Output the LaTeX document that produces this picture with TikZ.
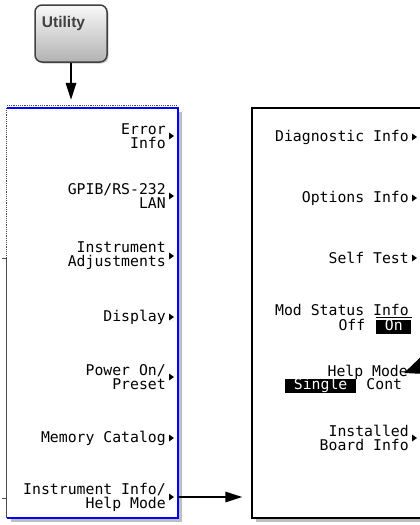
\documentclass[tikz,border=0pt]{standalone}
\usepackage{fontspec}
\setmonofont{DejaVu Sans Mono}
\setsansfont{Liberation Sans}
\usetikzlibrary{arrows.meta,shadows}

\newcommand\keyfont{\ttfamily\fontsize{14.8}{14}\selectfont}
% small softkey triangle right of a label
\newcommand\keymark[1]{\fill ([shift={(3,-3.5)}]#1.east) -- ++(5,3.5) -- ++(-5,3.5) -- cycle;}

\tikzset{
  keytext/.style={font=\keyfont,align=right,anchor=east,inner sep=0pt},
  hilite/.style={font=\keyfont,fill=black,text=white,inner xsep=8.7pt,inner ysep=0.5pt,text height=10pt,text depth=3pt,anchor=north west},
  flow/.style={-{Triangle[length=17pt,width=10.5pt]},line width=1.6pt},
  panel/.style={fill=white,inner sep=0pt,drop shadow={shadow xshift=4pt,shadow yshift=-4pt,fill=gray,opacity=.5}},
}

\begin{document}
\begin{tikzpicture}[x=1pt,y=-1pt]
\useasboundingbox (0,0) rectangle (420,525);
\clip (0,0) rectangle (420,525);

% Utility hardkey
\node[draw=black!75,line width=1.5pt,rounded corners=7pt,top color=gray!5,middle color=gray!30,bottom color=gray!60,minimum width=72pt,minimum height=57pt,drop shadow={shadow xshift=1.5pt,shadow yshift=-1.5pt,fill=gray,opacity=.4}] (utility) at (71,33.5) {};
\node[font=\sffamily\bfseries\fontsize{15.5}{18}\selectfont,text=black!75,anchor=base] (utilitylbl) at (63.5,27) {Utility};

% Utility menu
\node[panel,minimum width=171pt,minimum height=410pt] (utilmenu) at (92.5,313) {};
\coordinate (tickA) at (2,258);
\coordinate (tickB) at (2,498);
\draw[blue,line width=2pt] (utilmenu.north west) -- (utilmenu.north east) -- (utilmenu.south east) -- (utilmenu.south west);
\draw[black!70,densely dotted,line width=1.2pt] ([yshift=2pt]utilmenu.north west) -- ([yshift=2pt]utilmenu.north east);
\draw[black!70,densely dotted,line width=1.2pt] (utilmenu.north west) -- (utilmenu.west |- tickA);
\draw[black!70,line width=1.2pt] (utilmenu.west |- tickA) -- (utilmenu.south west);
\draw[black!70] (tickA) -- (utilmenu.west |- tickA);
\draw[black!70] (tickB) -- (utilmenu.west |- tickB);

\node[keytext] (errinfo) at (166,136) {Error\\Info};
\node[keytext] (gpib) at (166,196) {GPIB/RS-232\\LAN};
\node[keytext] (adjust) at (166,256) {Instrument\\Adjustments};
\node[keytext] (display) at (166,317) {Display};
\node[keytext] (poweron) at (166,377) {Power On/\\Preset};
\node[keytext] (memcat) at (166,438) {Memory Catalog};
\node[keytext] (infohelp) at (166,497) {Instrument Info/\\Help Mode};
\keymark{errinfo}
\keymark{gpib}
\keymark{adjust}
\keymark{display}
\keymark{poweron}
\keymark{memcat}
\keymark{infohelp}

% Instrument Info menu
\node[panel,draw=black,line width=1.5pt,minimum width=190pt,minimum height=410pt] (infomenu) at (347,313) {};

\node[keytext] (diaginfo) at (409,137) {Diagnostic Info};
\node[keytext] (optinfo) at (409,198) {Options Info};
\node[keytext] (selftest) at (409,258) {Self Test};
\node[keytext,anchor=base east] (modstatus) at (409,315) {Mod Status Info};
\node[keytext,anchor=base east] (modoff) at (365.5,330) {Off};
\node[hilite] (modon) at (376,319.5) {On};
\draw[line width=0.8pt] ([yshift=2pt]modon.north west) -- ([yshift=2pt]modon.north east);
\node[keytext,anchor=base east] (helpmode) at (408,376) {Help Mode};
\node[hilite] (single) at (285,379) {Single};
\node[keytext,anchor=base west] (cont) at ([xshift=10pt]single.base east) {Cont};
\node[keytext] (boardinfo) at (409,438) {Installed\\Board Info};
\keymark{diaginfo}
\keymark{optinfo}
\keymark{selftest}
\keymark{boardinfo}

% connectors
\draw[flow,shorten >=8pt] (utility.south) -- (utility.south |- utilmenu.north);
\draw[flow,shorten >=9pt] (utilmenu.east |- infohelp) -- (infomenu.west |- infohelp);
\coordinate (helpptr) at (460,352);
\draw[-{Triangle[length=26pt,width=22pt]},line width=1pt] (helpptr) -- ([shift={(-4,-3)}]helpmode.base east);
\end{tikzpicture}
\end{document}
